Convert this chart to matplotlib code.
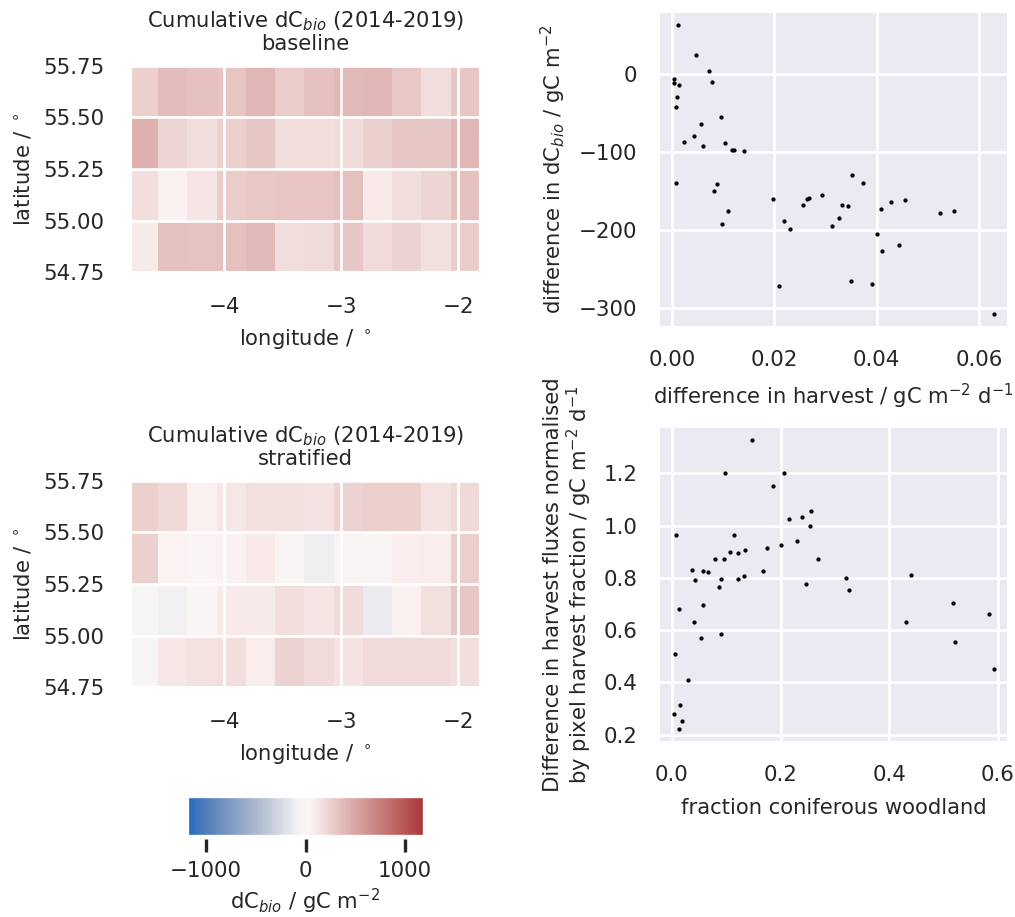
import numpy as np
import matplotlib
matplotlib.use("Agg")
import matplotlib.pyplot as plt
import seaborn as sns
from matplotlib.cm import ScalarMappable
from matplotlib.colors import Normalize

lon_edges = [-4.8125, -4.5625, -4.3125, -4.0625, -3.8125, -3.5625, -3.3125,
             -3.0625, -2.8125, -2.5625, -2.3125, -2.0625, -1.8125]
lat_edges = [55.75, 55.5, 55.25, 55.0, 54.75]

baseline_r1 = [250, 365, 345, 320, 405, 275, 345, 385, 405, 300, 180, 310]
baseline_r2 = [435, 230, 170, 250, 310, 170, 170, 190, 265, 310, 305, 405]
baseline_r3 = [175, 60, 130, 270, 295, 315, 320, 345, 110, 175, 225, 345]
baseline_r4 = [100, 345, 340, 350, 380, 180, 190, 310, 190, 240, 165, 270]

stratified_r1 = [250, 200, 60, 120, 165, 160, 140, 240, 260, 250, 150, 200]
stratified_r2 = [250, 40, 10, 50, 110, 10, -110, 30, 30, 80, 90, 260]
stratified_r3 = [-50, -100, -20, 110, 100, 170, 130, 190, -130, 60, 165, 310]
stratified_r4 = [-50, 120, 150, 175, 90, 240, 190, 140, 190, 190, 185, 175]

harvest_diff = [.00111, .00463, .00723, .00046, .00033, .00137, .00782, .00104, .00072, .00958,
                .0056, .00436, .00241, .00612, .01029, .01179, .01212, .01401, .00078, .00886,
                .00814, .01101, .00977, .0198, .02182, .02306, .02567, .02638, .02678, .02925,
                .03134, .03257, .03322, .03433, .03511, .03739, .04078, .0428, .04547, .05238,
                .05518, .04007, .04436, .04104, .03505, .03902, .02091, .06287]
dcbio_diff = [62.7, 23.9, 3.0, -7.3, -11.9, -14.1, -10.7, -29.4, -42.7, -55.5,
              -64.4, -80.2, -87.5, -93.0, -89.2, -97.3, -97.3, -98.6, -139.5, -141.3,
              -150.6, -175.4, -192.9, -160.9, -188.6, -198.4, -168.1, -160, -159.2, -155.8,
              -194.6, -184.4, -168.1, -169.8, -129.7, -140.4, -173.7, -163.9, -161.3, -178.4,
              -175.4, -205.3, -218.9, -226.6, -265.4, -269.3, -271.4, -307.7]

conifer_frac = [.1466, .0982, .2055, .1853, .2564, .2399, .2153, .254, .0074, .1147,
                .2294, .2, .1755, .1337, .1067, .1221, .0791, .0963, .2681, .0362,
                .0577, .0663, .1681, .1319, .1215, .0896, .0423, .0859, .2466, .3209,
                .3264, .4399, .0564, .0129, .0399, .0528, .0896, .4313, .5178, .5828,
                .5202, .592, .0049, .0294, .0141, .0031, .019, .0123]
norm_harvest = [1.3276, 1.2026, 1.2, 1.1503, 1.0559, 1.0342, 1.0265, .9985, .964, .9628,
                .9398, .9258, .9143, .9079, .8977, .8964, .8735, .8709, .8722, .8288,
                .8276, .8212, .825, .8084, .7969, .7957, .7906, .7651, .7778, .7995,
                .7548, .8122, .6974, .6821, .6298, .5712, .5865, .6311, .7026, .6630,
                .5559, .4526, .5087, .4092, .3148, .2778, .2536, .2217]

VLIM = 1180
W, H = 1015, 917
DPI = 120

sns.set_theme(style="darkgrid")
plt.rcParams.update({'grid.linewidth': 1.6, 'font.size': 12.7, 'axes.labelsize': 12.7,
                     'axes.titlesize': 12.7, 'xtick.labelsize': 12.8, 'ytick.labelsize': 12.8})
fig = plt.figure(figsize=(W / DPI, H / DPI), dpi=DPI)


def axes_px(left, right, top, bottom):
    return fig.add_axes([left / W, 1 - bottom / H, (right - left) / W, (bottom - top) / H])


cmap = sns.color_palette("vlag", as_cmap=True)
norm = Normalize(-VLIM, VLIM)


def draw_map(ax, rows, subtitle):
    ax.pcolormesh(lon_edges, lat_edges, np.array(rows), cmap=cmap, norm=norm)
    ax.set_xlim(-4.795, -1.8125)
    ax.set_ylim(54.75, 55.75)
    ax.set_xticks([-4, -3, -2])
    ax.set_yticks([54.75, 55.0, 55.25, 55.5, 55.75])
    ax.set_axisbelow(False)
    ax.grid(True, color='white')
    ax.tick_params(axis='x', pad=9)
    ax.tick_params(axis='y', pad=10)
    ax.set_xlabel(r"longitude / $^\circ$", labelpad=5.5)
    ax.set_ylabel(r"latitude / $^\circ$", labelpad=6)
    ax.set_title("Cumulative dC$_{bio}$ (2014-2019)\n" + subtitle, pad=9.5, linespacing=1.05)


ax1 = axes_px(131, 480, 65.6, 272.4)
draw_map(ax1, [baseline_r1, baseline_r2, baseline_r3, baseline_r4], "baseline")
ax2 = axes_px(131, 480, 480.6, 687.4)
draw_map(ax2, [stratified_r1, stratified_r2, stratified_r3, stratified_r4], "stratified")

ax3 = axes_px(659, 1008, 11.7, 326.7)
ax3.scatter(harvest_diff, dcbio_diff, s=6.5, c='black', linewidths=0)
ax3.set_xlim(-0.00254, 0.0657)
ax3.set_ylim(-323.9, 79.4)
ax3.set_xticks([0, 0.02, 0.04, 0.06])
ax3.set_yticks([-300, -200, -100, 0])
ax3.set_xticklabels(["0.00", "0.02", "0.04", "0.06"])
ax3.tick_params(axis='x', pad=8)
ax3.tick_params(axis='y', pad=7)
ax3.set_xlabel("difference in harvest / gC m$^{-2}$ d$^{-1}$", labelpad=7)
ax3.set_ylabel("difference in dC$_{bio}$ / gC m$^{-2}$", labelpad=6.5)

ax4 = axes_px(659, 1008, 426.7, 741.7)
ax4.scatter(conifer_frac, norm_harvest, s=6.5, c='black', linewidths=0)
ax4.set_xlim(-0.0239, 0.6184)
ax4.set_ylim(0.1732, 1.3786)
ax4.set_xticks([0, 0.2, 0.4, 0.6])
ax4.set_yticks([0.2, 0.4, 0.6, 0.8, 1.0, 1.2])
ax4.tick_params(axis='x', pad=8)
ax4.tick_params(axis='y', pad=7)
ax4.set_xlabel("fraction coniferous woodland", labelpad=7.5)
ax4.set_ylabel("Difference in harvest fluxes normalised\nby pixel harvest fraction / gC m$^{-2}$ d$^{-1}$",
               labelpad=5.5, linespacing=1.1)

cax = axes_px(188, 423, 796.7, 835)
sm = ScalarMappable(norm=norm, cmap=cmap)
cbar = fig.colorbar(sm, cax=cax, orientation='horizontal', ticks=[-1000, 0, 1000])
cbar.outline.set_edgecolor('white')
cbar.outline.set_linewidth(0.8)
cax.spines['bottom'].set_position(('outward', 2.6))
cax.xaxis.set_ticks_position('bottom')
cax.tick_params(axis='x', length=8, width=2, color='.15', pad=5)
cbar.set_label("dC$_{bio}$ / gC m$^{-2}$", labelpad=3.5)

fig.savefig("out.png", dpi=DPI)
